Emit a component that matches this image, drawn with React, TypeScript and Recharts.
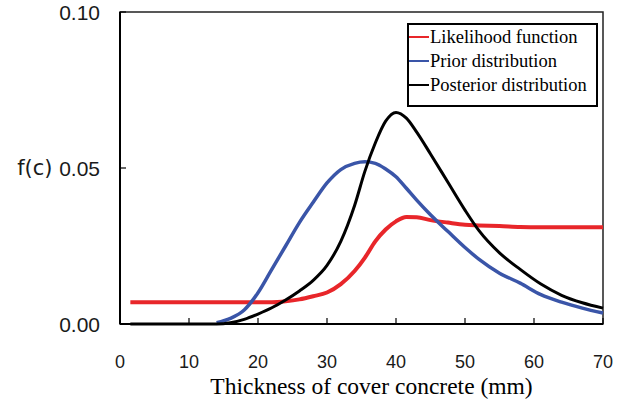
import React from 'react';
import { LineChart, Line, XAxis, YAxis, Legend, ReferenceArea } from 'recharts';

// --- Data ---

const thickness = [1.5, 5, 10, 14, 16, 18, 20, 22, 24, 26, 28, 30, 32, 34, 35.5, 37, 38.5, 40, 41.5, 43, 45, 47.5, 50, 52, 55, 58, 61, 64, 67, 70];

const likelihood = [0.007, 0.007, 0.007, 0.007, 0.007, 0.007, 0.007, 0.007, 0.0073, 0.0079, 0.0089, 0.0101, 0.0128, 0.017, 0.0213, 0.0265, 0.0303, 0.0329, 0.0343, 0.0342, 0.0333, 0.0325, 0.0318, 0.0316, 0.0314, 0.0311, 0.031, 0.031, 0.031, 0.031];

const prior = [null, null, null, 0.0004, 0.0018, 0.0045, 0.010, 0.0175, 0.025, 0.0325, 0.039, 0.0452, 0.0495, 0.0515, 0.052, 0.0515, 0.0497, 0.0472, 0.0435, 0.0397, 0.035, 0.0297, 0.0245, 0.0208, 0.0163, 0.0131, 0.0094, 0.007, 0.0051, 0.0035];

const posterior = [0, 0, 0, 0, 0.0004, 0.0015, 0.0032, 0.0052, 0.0077, 0.0106, 0.014, 0.0188, 0.0265, 0.038, 0.049, 0.058, 0.065, 0.0678, 0.066, 0.0615, 0.0545, 0.0455, 0.0365, 0.030, 0.0228, 0.0175, 0.0128, 0.0092, 0.0068, 0.0051];

const xTicks = [0, 10, 20, 30, 40, 50, 60, 70];
const yTicks = [0, 0.05, 0.1];

const series = [
    { key: 'likelihood', name: 'Likelihood function', color: '#e8262a', width: 4 },
    { key: 'prior', name: 'Prior distribution', color: '#3a55a8', width: 3.5 },
    { key: 'posterior', name: 'Posterior distribution', color: '#000000', width: 3 },
];

const chartData = thickness.map((x, i) => ({
    x,
    likelihood: likelihood[i],
    prior: prior[i],
    posterior: posterior[i],
}));

const sans = "'Liberation Sans', Arial, sans-serif";
const serif = "'Liberation Serif', 'Times New Roman', serif";

// --- Custom ticks (ticks point inward) ---

const YTick = ({ x, y, payload }: any) => {
    const v = payload.value;
    return (
        <g>
            <line x1={x} y1={y} x2={x + 6} y2={y} stroke="#000" strokeWidth={1.2} />
            <text x={x - 20} y={y} textAnchor="end" dominantBaseline="central" fontSize={21} fill="#1a1a1a" fontFamily={sans}>
                {v === 0.05 && <tspan fontFamily="'DejaVu Sans', sans-serif">f(c) </tspan>}
                <tspan>{v.toFixed(2)}</tspan>
            </text>
        </g>
    );
};

const XTick = ({ x, y, payload }: any) => (
    <g>
        <line x1={x} y1={y} x2={x} y2={y - 6} stroke="#000" strokeWidth={1.2} />
        <text x={x} y={y + 38} textAnchor="middle" dominantBaseline="central" fontSize={18} fill="#1a1a1a" fontFamily={sans}>
            {payload.value}
        </text>
    </g>
);

const XTitle = ({ viewBox }: any) => (
    <text x={viewBox.x + viewBox.width / 2 + 10} y={viewBox.y + 70} textAnchor="middle" fontSize={23.5} fill="#000" fontFamily={serif}>
        Thickness of cover concrete (mm)
    </text>
);

const LegendBox = () => (
    <div style={{ border: '2px solid #000', width: 187, height: 80, background: '#fff', fontFamily: serif, fontSize: 18.5, color: '#000', boxSizing: 'content-box' }}>
        {series.map((s) => (
            <div key={s.key} style={{ display: 'flex', alignItems: 'center', height: 24, whiteSpace: 'nowrap' }}>
                <span style={{ display: 'inline-block', width: 20, height: 2, background: s.color, marginRight: 1, flexShrink: 0 }} />
                <span>{s.name}</span>
            </div>
        ))}
    </div>
);

export default function App() {
    return (
        <div style={{ position: 'absolute', left: 0, top: 0, width: 630, height: 403, background: '#fff' }}>
            <LineChart width={630} height={403} data={chartData} margin={{ top: 12, right: 27, left: 60, bottom: 19 }}>
                <ReferenceArea x1={0} x2={70} y1={0} y2={0.1} fill="none" stroke="#222" strokeWidth={1.5} ifOverflow="visible" />
                <XAxis
                    dataKey="x"
                    type="number"
                    domain={[0, 70]}
                    ticks={xTicks}
                    tick={<XTick />}
                    tickLine={false}
                    tickSize={0}
                    tickMargin={0}
                    axisLine={{ stroke: '#000', strokeWidth: 2 }}
                    height={60}
                    label={<XTitle />}
                />
                <YAxis
                    type="number"
                    domain={[0, 0.1]}
                    ticks={yTicks}
                    tick={<YTick />}
                    tickLine={false}
                    tickSize={0}
                    tickMargin={0}
                    axisLine={{ stroke: '#000', strokeWidth: 2 }}
                    width={60}
                />
                <Legend
                    layout="horizontal"
                    verticalAlign="middle"
                    align="center"
                    content={<LegendBox />}
                    wrapperStyle={{ position: 'absolute', left: 407, top: 23, width: 'auto', height: 'auto' }}
                />
                {series.map((s) => (
                    <Line
                        key={s.key}
                        dataKey={s.key}
                        name={s.name}
                        type="monotone"
                        stroke={s.color}
                        strokeWidth={s.width}
                        dot={false}
                        activeDot={false}
                        connectNulls={false}
                        isAnimationActive={false}
                    />
                ))}
            </LineChart>
        </div>
    );
}
